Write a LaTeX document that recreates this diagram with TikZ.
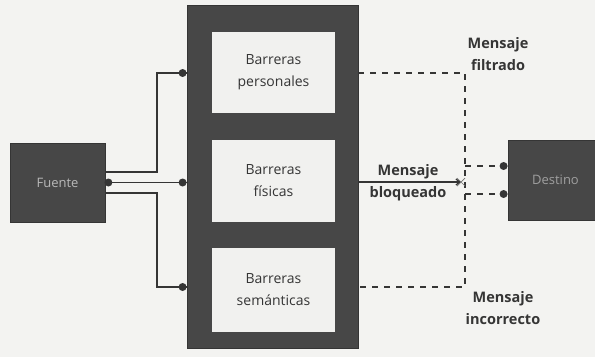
\documentclass[tikz,border=0pt]{standalone}
\usepackage{fontspec}
\setmainfont{Open Sans}
\usetikzlibrary{arrows.meta}
\definecolor{bg}{HTML}{F3F3F1}
\definecolor{darkfill}{HTML}{474747}
\definecolor{boxfill}{HTML}{F1F1EF}
\definecolor{ink}{HTML}{353535}
\begin{document}
\begin{tikzpicture}[x=1pt,y=-1pt,
  darkbox/.style={fill=darkfill, draw=ink, line width=0.8pt, inner sep=0pt, text=gray!55, font=\fontsize{13}{15}\selectfont},
  barbox/.style={fill=boxfill, draw=none, inner sep=0pt, minimum width=123pt, align=center, text=ink, font=\fontsize{14}{22}\selectfont},
  conn/.style={draw=ink, line width=1.6pt},
  dconn/.style={draw=ink, line width=1.5pt, dash pattern=on 6pt off 6pt},
  dotc/.style={fill=ink},
  lbl/.style={text=ink, align=center, inner sep=0pt, font=\fontsize{14.5}{22}\selectfont\bfseries}]
\useasboundingbox (0,0) rectangle (595,357);
\fill[bg] (0,0) rectangle (595,357);
% source
\node[darkbox, minimum width=95pt, minimum height=79pt] (src) at (57.5,182.5) {Fuente};
% column
\node[darkbox, minimum width=171pt, minimum height=343pt] (col) at (272.5,176.5) {};
\node[barbox, minimum height=81pt] (b1) at (273.5,72.5) {Barreras\\personales};
\node[barbox, minimum height=82pt] (b2) at (273.5,181) {Barreras\\físicas};
\node[barbox, minimum height=84pt] (b3) at (273.5,290) {Barreras\\semánticas};
% destination
\node[darkbox, minimum width=95pt, minimum height=80pt, text=gray!75] (dst) at (555.5,180) {Destino};
% left connectors
\coordinate (jt) at (157,73);
\coordinate (jb) at (157,287);
\draw[conn] ([yshift=10.5pt]src.east) -| (jt) -- (col.west |- jt);
\draw[conn] ([yshift=-10.5pt]src.east) -| (jb) -- (col.west |- jb);
\draw[conn] (src.east) -- (col.west |- src.east);
\fill[dotc] ([xshift=-4pt]col.west |- jt) circle (4pt);
\fill[dotc] ([xshift=-4pt]col.west |- jb) circle (4pt);
\fill[dotc] ([xshift=-4pt]col.west |- src.east) circle (4pt);
\fill[dotc] ([xshift=3pt]src.east) circle (4pt);
% right dashed connectors
\coordinate (rt) at (465,73);
\coordinate (rb) at (465,287);
\coordinate (ru) at (465,166);
\coordinate (rl) at (465,194);
\draw[dconn] (col.east |- rt) -- (rt) -- (rb) -- (col.east |- rb);
\draw[dconn] (ru) -- ([xshift=-4pt]dst.west |- ru);
\draw[dconn] (rl) -- ([xshift=-4pt]dst.west |- rl);
\fill[dotc] ([xshift=-4pt]dst.west |- ru) circle (4pt);
\fill[dotc] ([xshift=-4pt]dst.west |- rl) circle (4pt);
% blocked message
\coordinate (bx) at (461,182);
\draw[draw=ink, line width=1.3pt, -{Straight Barb[length=4pt,width=6pt]}] (col.east |- bx) -- (bx);
\draw[draw=ink!70, line width=0.7pt] ([shift={(-4pt,-4pt)}]bx) -- ([shift={(4pt,4pt)}]bx) ([shift={(-4pt,4pt)}]bx) -- ([shift={(4pt,-4pt)}]bx);
% labels
\node[lbl] (lb) at (408,182.5) {Mensaje\\bloqueado};
\node[lbl] (lf) at (498,54) {Mensaje\\filtrado};
\node[lbl] (li) at (503,308) {Mensaje\\incorrecto};
\end{tikzpicture}
\end{document}
